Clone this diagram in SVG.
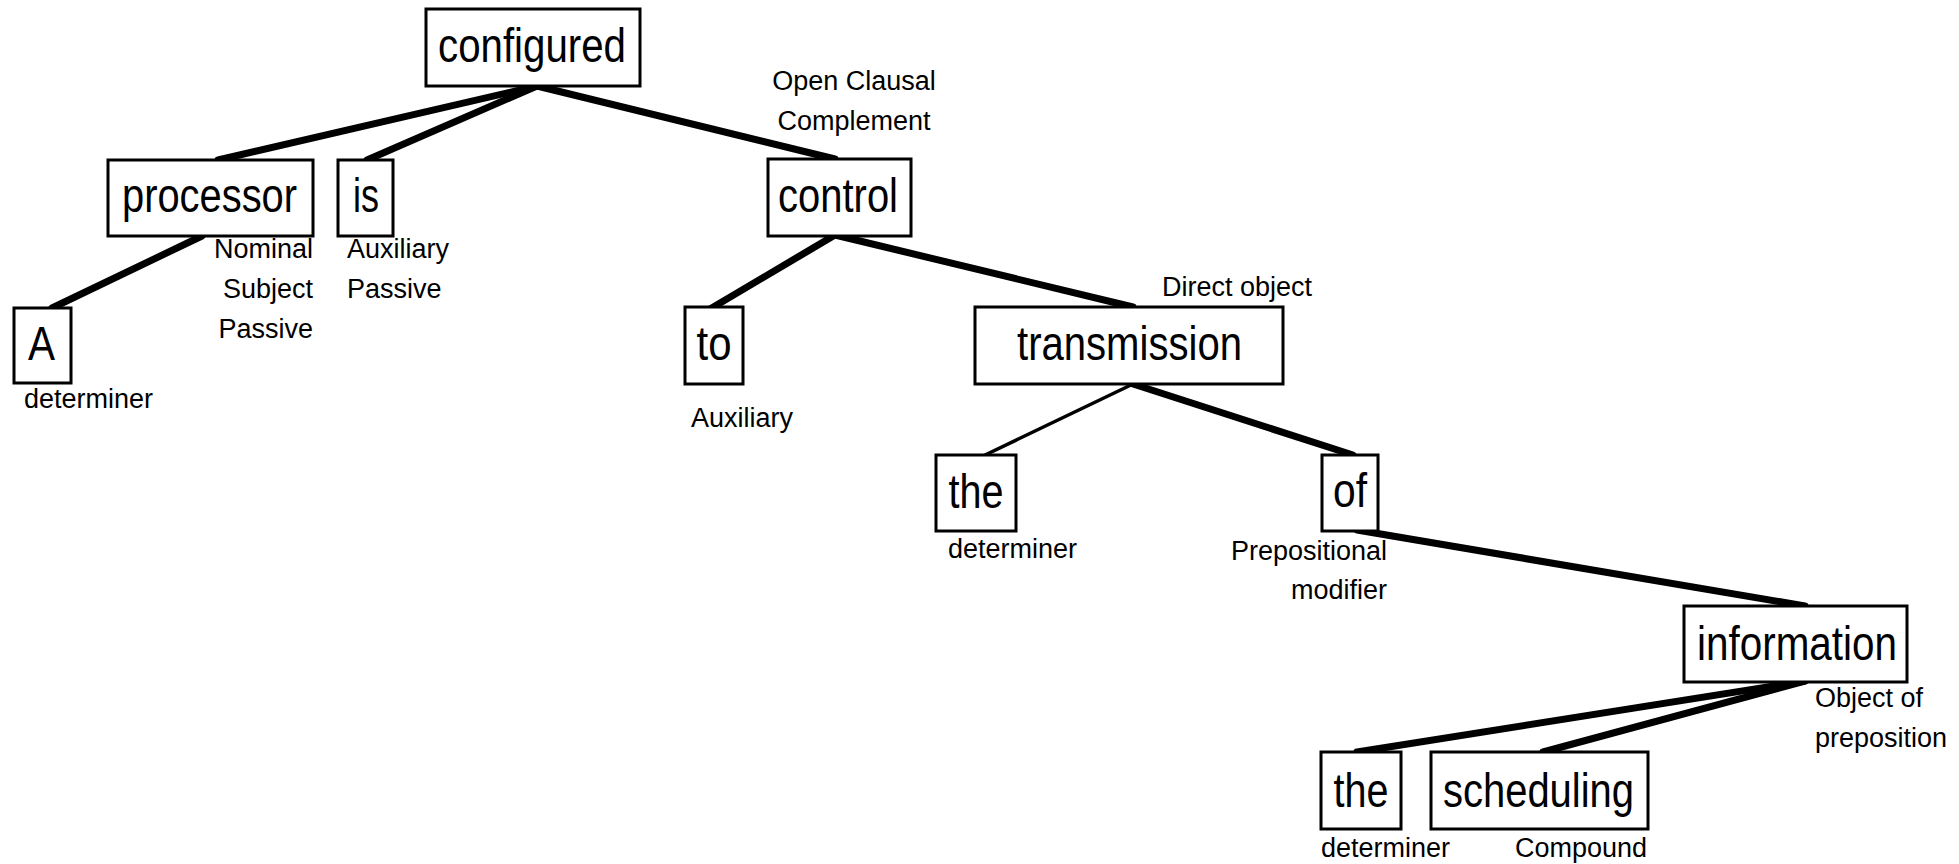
<svg xmlns="http://www.w3.org/2000/svg" width="1959" height="864" viewBox="0 0 1959 864">
<style>
.box{fill:#fff;stroke:#000;stroke-width:3}
.w{font-family:"Liberation Sans",Arial,sans-serif;font-size:49px;fill:#000;text-anchor:middle}
.l{font-family:"Liberation Sans",Arial,sans-serif;font-size:27px;fill:#000}
.e{stroke:#000;stroke-width:7;stroke-linecap:round;fill:none}
.t{stroke:#000;stroke-width:3.5;stroke-linecap:round;fill:none}
</style>
<rect width="1959" height="864" fill="#fff"/>
<g id="connectors">
<line class="e" x1="537" y1="86" x2="218" y2="160"/>
<line class="e" x1="537" y1="86" x2="367" y2="160"/>
<line class="e" x1="537" y1="86" x2="835" y2="159"/>
<line class="e" x1="202" y1="236" x2="52" y2="308"/>
<line class="e" x1="835" y1="235" x2="710" y2="309"/>
<line class="e" x1="835" y1="235" x2="1133" y2="307"/>
<line class="t" x1="1133" y1="384" x2="983" y2="456"/>
<line class="e" x1="1133" y1="384" x2="1353" y2="455"/>
<line class="e" x1="1357" y1="530" x2="1805" y2="606"/>
<line class="e" x1="1805" y1="681" x2="1357" y2="752"/>
<line class="e" x1="1805" y1="681" x2="1543" y2="752"/>
</g>
<g id="n-configured">
<rect class="box" x="426" y="9" width="214" height="77"/>
<text class="w" x="532" y="62" textLength="188" lengthAdjust="spacingAndGlyphs">configured</text>
</g>
<g id="n-processor">
<rect class="box" x="108" y="160" width="205" height="76"/>
<text class="w" x="209.5" y="212" textLength="175" lengthAdjust="spacingAndGlyphs">processor</text>
<text class="l" text-anchor="end"><tspan x="313" y="258">Nominal</tspan><tspan x="313" y="298">Subject</tspan><tspan x="313" y="338">Passive</tspan></text>
</g>
<g id="n-is">
<rect class="box" x="338" y="160" width="55" height="76"/>
<text class="w" x="366" y="212" textLength="26" lengthAdjust="spacingAndGlyphs">is</text>
<text class="l"><tspan x="347" y="258">Auxiliary</tspan><tspan x="347" y="298">Passive</tspan></text>
</g>
<g id="n-A">
<rect class="box" x="14" y="308" width="57" height="75"/>
<text class="w" x="41.5" y="360" textLength="27" lengthAdjust="spacingAndGlyphs">A</text>
<text class="l" x="24" y="408">determiner</text>
</g>
<g id="n-control">
<rect class="box" x="768" y="159" width="143" height="77"/>
<text class="w" x="838" y="212" textLength="120" lengthAdjust="spacingAndGlyphs">control</text>
<text class="l" text-anchor="middle"><tspan x="854" y="90">Open Clausal</tspan><tspan x="854" y="130">Complement</tspan></text>
</g>
<g id="n-to">
<rect class="box" x="685" y="307" width="58" height="77"/>
<text class="w" x="714" y="360" textLength="35" lengthAdjust="spacingAndGlyphs">to</text>
<text class="l" x="691" y="427">Auxiliary</text>
</g>
<g id="n-transmission">
<rect class="box" x="975" y="307" width="308" height="77"/>
<text class="w" x="1129.5" y="360" textLength="225" lengthAdjust="spacingAndGlyphs">transmission</text>
<text class="l" x="1162" y="296">Direct object</text>
</g>
<g id="n-the1">
<rect class="box" x="936" y="455" width="80" height="76"/>
<text class="w" x="976" y="508" textLength="55" lengthAdjust="spacingAndGlyphs">the</text>
<text class="l" x="948" y="558">determiner</text>
</g>
<g id="n-of">
<rect class="box" x="1322" y="455" width="56" height="76"/>
<text class="w" x="1350" y="507" textLength="34" lengthAdjust="spacingAndGlyphs">of</text>
<text class="l" text-anchor="end"><tspan x="1387" y="560">Prepositional</tspan><tspan x="1387" y="599">modifier</tspan></text>
</g>
<g id="n-information">
<rect class="box" x="1684" y="606" width="223" height="76"/>
<text class="w" x="1797" y="660" textLength="200" lengthAdjust="spacingAndGlyphs">information</text>
<text class="l"><tspan x="1815" y="707">Object of</tspan><tspan x="1815" y="747">preposition</tspan></text>
</g>
<g id="n-the2">
<rect class="box" x="1321" y="752" width="80" height="77"/>
<text class="w" x="1361" y="807" textLength="55" lengthAdjust="spacingAndGlyphs">the</text>
<text class="l" x="1321" y="857">determiner</text>
</g>
<g id="n-scheduling">
<rect class="box" x="1431" y="752" width="217" height="77"/>
<text class="w" x="1538.5" y="807" textLength="191" lengthAdjust="spacingAndGlyphs">scheduling</text>
<text class="l" text-anchor="end" x="1647" y="857">Compound</text>
</g>
</svg>
